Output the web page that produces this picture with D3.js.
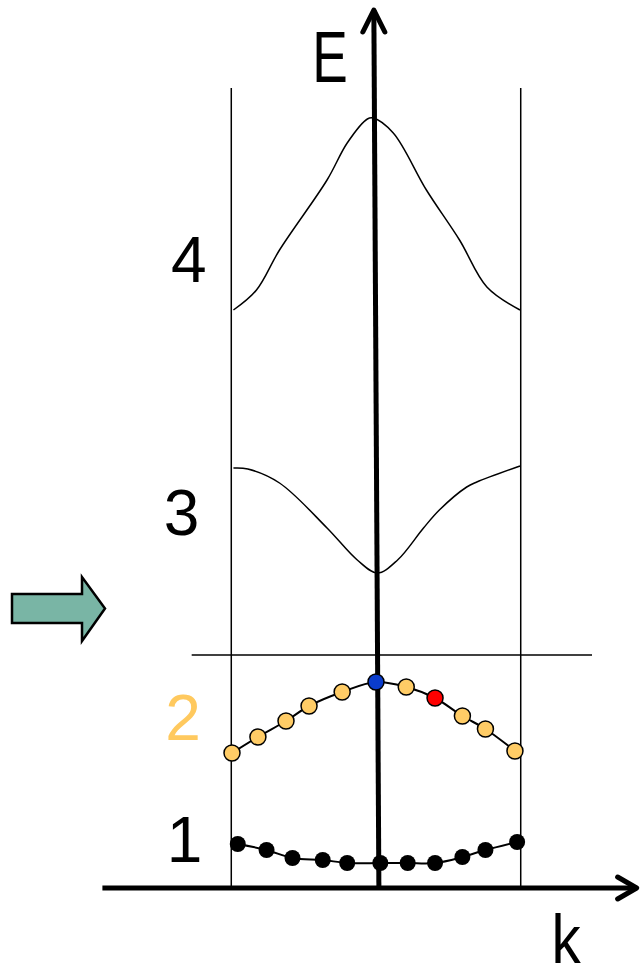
<!DOCTYPE html>
<html>
<head>
<meta charset="utf-8">
<script src="https://cdn.jsdelivr.net/npm/d3@7/dist/d3.min.js"></script>
<style>
  html, body { margin: 0; padding: 0; background: #fff; }
  svg { display: block; }
  text { font-family: "Liberation Sans", Arial, sans-serif; }
</style>
</head>
<body>
<svg id="chart" width="641" height="969"></svg>
<script>
// Band structure in the reduced zone: wave vector k (units of pi/a) vs energy E.
const band1K = [-0.96, -0.76, -0.58, -0.37, -0.20, 0.03, 0.22, 0.41, 0.60, 0.76, 0.98];
const band1E = [0.44, 0.38, 0.30, 0.28, 0.25, 0.25, 0.25, 0.25, 0.31, 0.38, 0.46];

const band2K = [-1.0, -0.82, -0.625, -0.465, -0.235, 0.0, 0.21, 0.41, 0.60, 0.76, 0.965];
const band2E = [1.35, 1.51, 1.67, 1.82, 1.96, 2.06, 2.01, 1.90, 1.72, 1.59, 1.37];
// highlighted states in band 2: blue at the zone centre, red one further out
const band2Fill = ["#ffcc66", "#ffcc66", "#ffcc66", "#ffcc66", "#ffcc66", "#0a3ccc",
                   "#ffcc66", "#ff0000", "#ffcc66", "#ffcc66", "#ffcc66"];

const band3K = [-0.99, -0.89, -0.67, -0.34, -0.13, 0.01, 0.15, 0.33, 0.44, 0.63, 0.70, 1.0];
const band3E = [4.20, 4.19, 4.05, 3.60, 3.28, 3.15, 3.28, 3.60, 3.78, 4.01, 4.06, 4.22];

const band4K = [-0.99, -0.83, -0.67, -0.34, -0.20, -0.06, -0.02, 0.12, 0.35, 0.58, 0.77, 1.0];
const band4E = [5.78, 5.98, 6.38, 7.08, 7.45, 7.69, 7.70, 7.55, 6.98, 6.48, 6.01, 5.78];

const bandLabels = ["1", "2", "3", "4"];
const bandLabelE = [0.26, 1.48, 3.53, 6.06];
const bandLabelK = [-1.33, -1.34, -1.35, -1.30];
const bandLabelColor = ["#000", "#ffc95e", "#000", "#000"];

const gapE = 2.33;          // energy of the horizontal reference line
const zoneEdge = [-1, 1];   // first Brillouin zone boundaries

const svg = d3.select("#chart");

const x = d3.scaleLinear().domain([-1, 1]).range([232, 520]);
const y = d3.scaleLinear().domain([0, 8.8]).range([888, 8]);

const line = d3.line().x(d => x(d[0])).y(d => y(d[1])).curve(d3.curveCatmullRom.alpha(0.5));

// Brillouin zone boundaries
svg.selectAll("line.zone").data(zoneEdge).join("line")
  .attr("class", "zone")
  .attr("x1", d => x(d * 1.005)).attr("x2", d => x(d * 1.005))
  .attr("y1", y(8.0)).attr("y2", y(0.005))
  .attr("stroke", "#000").attr("stroke-width", 1.5);

// horizontal reference line
svg.append("line")
  .attr("x1", x(-1.28)).attr("x2", x(1.5))
  .attr("y1", y(gapE)).attr("y2", y(gapE))
  .attr("stroke", "#000").attr("stroke-width", 1.5);

// bands 3 and 4 as curves
[[band3K, band3E], [band4K, band4E]].forEach(([ks, es]) => {
  svg.append("path")
    .attr("d", line(ks.map((k, i) => [k, es[i]])))
    .attr("fill", "none").attr("stroke", "#000").attr("stroke-width", 1.5);
});

// bands 1 and 2: curve through their states
[[band1K, band1E], [band2K, band2E]].forEach(([ks, es]) => {
  svg.append("path")
    .attr("d", line(ks.map((k, i) => [k, es[i]])))
    .attr("fill", "none").attr("stroke", "#000").attr("stroke-width", 2);
});

// E axis (drawn before the states so the blue dot sits on top)
const eAxisBottom = [0.02, 0];
const eAxisTop = [-0.015, 8.78];
svg.append("line")
  .attr("x1", x(eAxisBottom[0])).attr("y1", y(eAxisBottom[1]))
  .attr("x2", x(eAxisTop[0])).attr("y2", y(eAxisTop[1]))
  .attr("stroke", "#000").attr("stroke-width", 5);
svg.append("path")
  .attr("d", `M${x(eAxisTop[0]) - 11},${y(eAxisTop[1]) + 22} L${x(eAxisTop[0])},${y(eAxisTop[1])} L${x(eAxisTop[0]) + 11},${y(eAxisTop[1]) + 22}`)
  .attr("fill", "none").attr("stroke", "#000").attr("stroke-width", 5)
  .attr("stroke-linecap", "round").attr("stroke-linejoin", "round");

// k axis
const kAxisStart = -1.9, kAxisEnd = 1.81;
svg.append("line")
  .attr("x1", x(kAxisStart)).attr("x2", x(kAxisEnd))
  .attr("y1", y(0)).attr("y2", y(0))
  .attr("stroke", "#000").attr("stroke-width", 5);
svg.append("path")
  .attr("d", `M${x(kAxisEnd) - 19},${y(0) - 11} L${x(kAxisEnd)},${y(0)} L${x(kAxisEnd) - 19},${y(0) + 11}`)
  .attr("fill", "none").attr("stroke", "#000").attr("stroke-width", 5)
  .attr("stroke-linecap", "round").attr("stroke-linejoin", "round");

// states in band 1
svg.selectAll("circle.b1").data(band1K).join("circle")
  .attr("class", "b1")
  .attr("cx", d => x(d)).attr("cy", (d, i) => y(band1E[i]))
  .attr("r", 8).attr("fill", "#000");

// states in band 2
svg.selectAll("circle.b2").data(band2K).join("circle")
  .attr("class", "b2")
  .attr("cx", d => x(d)).attr("cy", (d, i) => y(band2E[i]))
  .attr("r", 8).attr("fill", (d, i) => band2Fill[i])
  .attr("stroke", "#000").attr("stroke-width", 1.5);

// band index labels
svg.selectAll("text.band").data(bandLabels).join("text")
  .attr("class", "band")
  .attr("x", (d, i) => x(bandLabelK[i]))
  .attr("y", (d, i) => y(bandLabelE[i]))
  .attr("text-anchor", "middle")
  .attr("font-size", 64)
  .attr("fill", (d, i) => bandLabelColor[i])
  .text(d => d);

// axis titles
svg.append("text")
  .attr("transform", `translate(${x(-0.32)},${y(8.06)}) scale(0.74,1)`)
  .attr("text-anchor", "middle")
  .attr("font-size", 72)
  .text("E");
svg.append("text")
  .attr("transform", `translate(${x(1.32)},${y(-0.75)}) scale(0.86,1)`)
  .attr("text-anchor", "middle")
  .attr("font-size", 68)
  .text("k");

// pointer arrow at the left, marking the gap line
const ax = 12, ay = 608.5;
svg.append("path")
  .attr("d", `M${ax},${ay - 14.5} L${ax + 70},${ay - 14.5} L${ax + 70},${ay - 31.5} L${ax + 93},${ay} L${ax + 70},${ay + 32.5} L${ax + 70},${ay + 14.5} L${ax},${ay + 14.5} Z`)
  .attr("fill", "#79b5a5").attr("stroke", "#000").attr("stroke-width", 2.5)
  .attr("stroke-linejoin", "miter");
</script>
</body>
</html>
